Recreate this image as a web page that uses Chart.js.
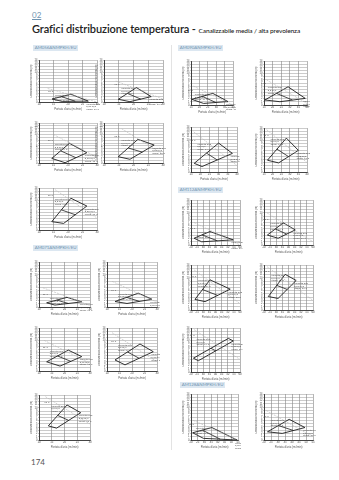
<!DOCTYPE html>
<html lang="it">
  <head>
    <meta charset="utf-8">
    <title>Grafici distribuzione temperatura</title>
    <script src="https://cdn.jsdelivr.net/npm/chart.js"></script>
    <style>
      html, body {
        margin: 0;
        padding: 0;
        background: #fff;
      }
      body {
        position: relative;
        width: 339px;
        height: 480px;
        overflow: hidden;
        font-family: "Lato", "Noto Sans", sans-serif;
      }
      canvas, .txt {
        position: absolute;
      }
      .sec {
        left: 32px;
        top: 10px;
        font-size: 8px;
        color: #6f93b0;
        text-decoration: underline;
      }
      .head {
        left: 32px;
        top: 22px;
        font-size: 11px;
        font-weight: 600;
        color: #222;
        white-space: nowrap;
        letter-spacing: -0.1px;
      }
      .head small {
        font-size: 6.5px;
        font-weight: 500;
      }
      .model {
        width: 45px;
        height: 6px;
        background: #dce7f1;
        overflow: hidden;
      }
      .model span {
        display: block;
        padding-left: 3px;
        font-size: 8px;
        line-height: 11px;
        color: #6f93b0;
        white-space: nowrap;
        transform: scale(0.55);
        transform-origin: 0 0;
      }
      .divider {
        position: absolute;
        left: 171px;
        top: 45px;
        width: 1px;
        height: 405px;
        background: #e3e3e3;
      }
      .page {
        left: 31px;
        top: 457px;
        font-size: 8px;
        color: #555;
      }
    </style>
  </head>
  <body>
    <div class="txt sec">02</div>
    <div class="txt head">Grafici distribuzione temperatura - <small>Canalizzabile media / alta prevolenza</small></div>
    <div class="divider"></div>
    <div class="txt model" style="left:33px;top:45px"><span>AM056ANMPKH/EU</span></div>
    <div class="txt model" style="left:178px;top:45px"><span>AM090ANMPKH/EU</span></div>
    <div class="txt model" style="left:178px;top:187px"><span>AM112ANMPKH/EU</span></div>
    <div class="txt model" style="left:33px;top:245px"><span>AM071ANMPKH/EU</span></div>
    <div class="txt model" style="left:180px;top:382px"><span>AM128ANMPKH/EU</span></div>
    <div class="txt page">174</div>

    <script>
      // Data (x in grid columns, y in metres)
      const panelIds = ["A1", "A2", "A3", "A4", "A5", "B1", "B2", "B3", "B4", "B5",
                        "C1", "C2", "C3", "C4", "D1", "D2", "D3", "D4", "D5", "E1", "E2"];
      const panelCols = [4, 4, 4, 4, 4, 4, 4, 4, 4, 4, 5, 5, 5, 5, 8, 8, 8, 8, 8, 7, 7];

      // diamond: left, top, right, bottom vertex
      const diamondX = [
        [0.9, 2.2, 3.4, 1.6], [0.97, 2.2, 3.2, 1.76], [0.88, 2.1, 3.3, 1.8], [0.97, 2.3, 3.4, 1.76], [0.88, 2.2, 3.3, 1.7],
        [0.6, 2.2, 3.35, 1.25], [0.64, 2.5, 3.6, 1.6], [0.6, 2.3, 3.35, 1.65], [0.64, 2.64, 3.7, 1.44], [0.73, 2.2, 3.27, 1.38],
        [0.1, 2.6, 4.4, 1.5], [0.1, 2.8, 4.8, 1.85], [0.35, 3.0, 4.5, 1.2], [0.4, 2.6, 4.0, 1.7],
        [0.5, 3.1, 6.9, 1.75], [0.55, 3.15, 5.1, 2.3], [0.65, 3.1, 6.4, 2.3], [0.7, 3.45, 5.25, 2.3], [0.4, 6.1, 6.9, 1.2],
        [0.25, 3.1, 6.85, 1.85], [0.5, 3.6, 5.85, 2.6]
      ];
      const diamondY = [
        [1.0, 2.6, 0.3, 0.2], [0.9, 4.8, 1.8, 0.1], [1.6, 6.9, 3.6, 0.1], [2.2, 8.3, 6.3, 1.3], [2.8, 10.6, 8.0, 2.2],
        [1.3, 3.0, 1.6, 0.6], [1.7, 4.3, 2.4, 1.1], [3.0, 6.8, 4.7, 1.6], [3.6, 8.8, 6.3, 2.0], [4.4, 10.9, 8.5, 3.7],
        [1.8, 3.7, 1.1, 0.5], [1.6, 5.8, 2.1, 1.05], [2.7, 9.0, 5.8, 1.7], [3.75, 10.8, 6.9, 2.9],
        [2.1, 4.2, 1.6, 1.0], [3.1, 6.9, 4.7, 2.1], [3.3, 9.4, 6.5, 2.6], [4.2, 11.1, 9.2, 3.6], [4.4, 10.7, 9.9, 3.6],
        [2.2, 3.8, 0.0, 0.5], [2.5, 6.3, 3.8, 2.0]
      ];
      // inner split line of each diamond
      const splitX = [
        [1.55, 2.5], [1.6, 2.5], [1.5, 2.55], [1.65, 2.6], [1.55, 2.5],
        [1.4, 2.3], [1.57, 2.6], [1.45, 2.5], [1.64, 2.57], [1.47, 2.33],
        [1.35, 2.95], [1.45, 3.3], [1.7, 2.85], [1.5, 2.85],
        [1.8, 4.3], [1.85, 3.7], [1.9, 4.35], [2.1, 3.8], [3.25, 4.05],
        [1.7, 4.35], [2.05, 4.2]
      ];
      const splitY = [
        [1.8, 0.25], [2.85, 0.95], [4.25, 1.85], [5.25, 3.8], [6.7, 5.1],
        [2.15, 1.1], [3.0, 1.75], [4.9, 3.15], [6.2, 4.15], [7.65, 6.1],
        [2.75, 0.8], [3.7, 1.6], [5.85, 3.75], [7.3, 4.9],
        [3.15, 1.3], [5.0, 3.4], [6.35, 4.55], [7.65, 6.4], [7.55, 6.75],
        [3.0, 0.25], [4.4, 2.9]
      ];
      // grey throw line
      const throwX = [
        [0.6, 4], [0.8, 4], [1.0, 4], [1.2, 4], [1.1, 4],
        [0.3, 4], [0.4, 4], [0.4, 4], [0.4, 4], [0.5, 4],
        [0.3, 5], [0.3, 5], [0.3, 5], [0.3, 5],
        [0.5, 8], [0.5, 8], [0.5, 8], [0.5, 8], [0.5, 8],
        [0.3, 7], [0.3, 7]
      ];
      const throwY = [
        [4.5, 0], [7, 1], [10, 2], [12, 3], [13.5, 4],
        [6, 0.5], [8, 1.5], [10, 2.5], [12.5, 3], [13.5, 5],
        [6, 0], [8, 0.5], [12.5, 2], [13.5, 3],
        [7, 0], [10, 1], [12.5, 2], [13.5, 3], [13.5, 4],
        [6, 0], [9, 1]
      ];
      const xTickLabels = {
        4: ["10", "15", "20", "25", "30"],
        5: ["15", "20", "25", "30", "35", "40"],
        7: ["20", "25", "30", "35", "40", "45", "50", "55"],
        8: ["20", "25", "30", "35", "40", "45", "50", "55", "60"]
      };
      const yMax = 14;
      const xTitle = "Portata d'aria (m³/min)";
      const yTitle = "Distanza dalla bocchetta (m)";
      const noteTemp = "26°C";
      const notePeak = ["Velocità aria", "0,5 m/s", "Temp. 24°C"];
      const noteRight = ["Velocità aria", "0,25 m/s", "Temp. 22°C"];

      // Layout: plot area [left, top, right, bottom] in page pixels
      const panelBoxes = [
        [39, 60, 97, 102], [104, 60, 163, 102], [39, 123, 97, 163], [104, 123, 163, 163], [39, 188, 97, 230],
        [39, 262, 90, 307], [107, 262, 157, 307], [39, 328, 90, 371], [107, 328, 157, 371], [39, 395, 90, 440],
        [191, 61, 233, 105], [264, 61, 307, 105], [191, 127, 237, 172], [264, 128, 307, 172],
        [191, 200, 240, 245], [264, 200, 313, 245], [191, 265, 240, 310], [264, 265, 313, 310], [191, 328, 240, 372],
        [191, 394, 238, 440], [264, 394, 313, 440]
      ];
      const Y_AXIS_W = 9, X_AXIS_H = 9, PAD_TOP = 2, PAD_RIGHT = 3;

      // small notes drawn next to each diamond
      const notesPlugin = {
        id: "notes",
        afterDatasetsDraw(chart, args, opts) {
          const i = opts.index;
          const xs = chart.scales.x, ys = chart.scales.y, ctx = chart.ctx;
          const px = v => xs.getPixelForValue(v), py = v => ys.getPixelForValue(v);
          ctx.save();
          ctx.fillStyle = "#555";
          ctx.font = "2.5px Roboto, sans-serif";
          ctx.textBaseline = "middle";
          ctx.textAlign = "left";
          // temperature note at the left, above the diamond
          ctx.fillText(noteTemp, px(diamondX[i][0]) - 4, py(diamondY[i][1]) - 3);
          // peak note
          notePeak.forEach((t, k) => ctx.fillText(t, px(diamondX[i][0]) + 3, py(diamondY[i][1]) + 1 + k * 2.6));
          // right note
          noteRight.forEach((t, k) => ctx.fillText(t, px(diamondX[i][2]) - 2, py(diamondY[i][2]) + 3 + k * 2.6));
          ctx.restore();
        }
      };

      function pts(xs, ys, close) {
        let p = xs.map((x, k) => ({x, y: ys[k]}));
        if (close) {
          p.push(p[0]);
        }
        return p;
      }

      panelIds.forEach((id, i) => {
        const [l, t, r, b] = panelBoxes[i];
        const cols = panelCols[i];
        const canvas = document.createElement("canvas");
        const w = r - l + Y_AXIS_W + PAD_RIGHT;
        const h = b - t + X_AXIS_H + PAD_TOP;
        canvas.width = w;
        canvas.height = h;
        canvas.style.left = (l - Y_AXIS_W) + "px";
        canvas.style.top = (t - PAD_TOP) + "px";
        canvas.style.width = w + "px";
        canvas.style.height = h + "px";
        canvas.id = "chart" + id;
        document.body.appendChild(canvas);

        const line = (data, color, width, dash) => ({
          data, showLine: true, borderColor: color, borderWidth: width,
          borderDash: dash || [], pointRadius: 0, tension: 0
        });

        new Chart(canvas.getContext("2d"), {
          type: "scatter",
          data: {
            datasets: [
              line(pts(throwX[i], throwY[i]), "#b5b5b5", 0.6, [2, 1]),
              line(pts(diamondX[i], diamondY[i], true), "#1e1e1e", 0.9),
              line(pts(splitX[i], splitY[i]), "#1e1e1e", 0.8),
            ]
          },
          plugins: [notesPlugin],
          options: {
            responsive: false,
            animation: false,
            devicePixelRatio: 1,
            layout: { padding: { top: PAD_TOP, right: PAD_RIGHT, left: 0, bottom: 0 } },
            plugins: {
              legend: { display: false },
              tooltip: { enabled: false },
              notes: { index: i }
            },
            scales: {
              x: {
                type: "linear", min: 0, max: cols,
                afterFit: s => { s.height = X_AXIS_H; },
                ticks: {
                  stepSize: 1, autoSkip: false, padding: 0, maxRotation: 0,
                  font: { size: 2.8 }, color: "#444",
                  callback: v => xTickLabels[cols][v]
                },
                grid: { color: "#6a6a6a", lineWidth: 0.5, tickLength: 1 },
                border: { color: "#222", width: 0.8 },
                title: { display: true, text: xTitle, font: { size: 2.8 }, color: "#555", padding: 0 }
              },
              y: {
                min: 0, max: yMax,
                afterFit: s => { s.width = Y_AXIS_W; },
                ticks: {
                  stepSize: 1, autoSkip: false, padding: 0.5,
                  font: { size: 2.6 }, color: "#444"
                },
                grid: { color: "#8a8a8a", lineWidth: 0.45, tickLength: 1 },
                border: { color: "#222", width: 0.8 },
                title: { display: true, text: yTitle, font: { size: 2.6 }, color: "#555", padding: 0 }
              }
            }
          }
        });
      });
    </script>
  </body>
</html>
